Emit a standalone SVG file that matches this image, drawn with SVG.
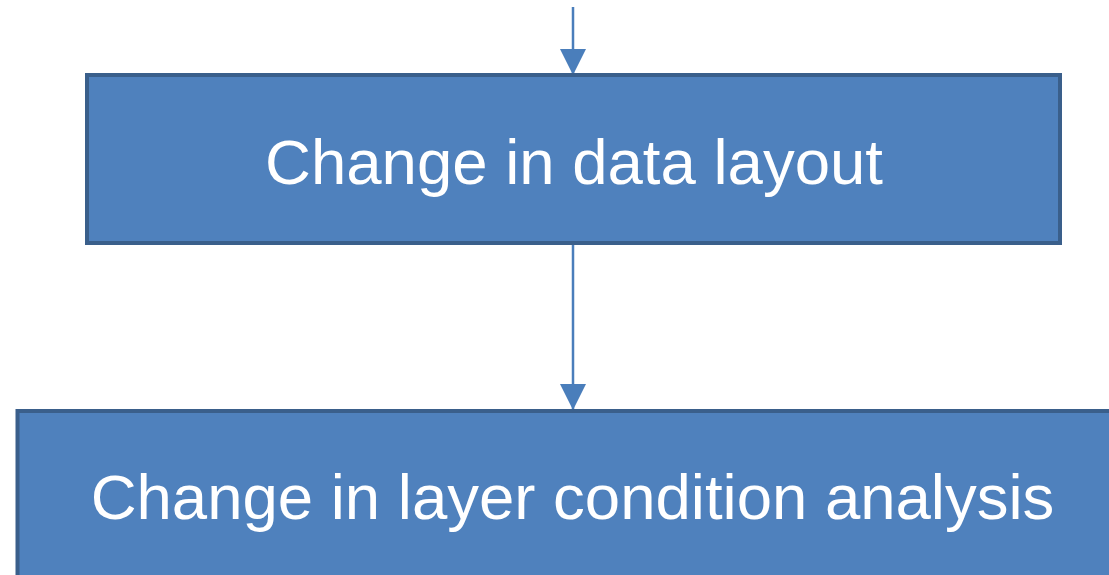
<svg xmlns="http://www.w3.org/2000/svg" width="1109" height="575" viewBox="0 0 1109 575">
  <style>
    .box { fill: #4f81bd; stroke: #3a5f8b; stroke-width: 4; }
    .label { fill: #ffffff; font-family: "Liberation Sans", Arial, sans-serif; font-size: 63.5px; text-anchor: middle; }
    .link { stroke: #4a7ebb; stroke-width: 2.5; fill: none; }
  </style>
  <defs>
    <marker id="arrowhead" viewBox="0 0 26 26" refX="26" refY="13" markerWidth="26" markerHeight="26" markerUnits="userSpaceOnUse" orient="auto">
      <path d="M0,0 L26,13 L0,26 Z" fill="#4a7ebb"/>
    </marker>
  </defs>

  <g id="connectors">
    <line class="link" x1="573" y1="7" x2="573" y2="75" marker-end="url(#arrowhead)"/>
    <line class="link" x1="573" y1="245" x2="573" y2="410" marker-end="url(#arrowhead)"/>
  </g>

  <g id="node-data-layout">
    <rect class="box" x="87" y="75" width="973" height="168"/>
    <text class="label" x="574" y="184">Change in data layout</text>
  </g>

  <g id="node-layer-condition">
    <rect class="box" x="17.5" y="411" width="1200" height="300"/>
    <text class="label" x="572.5" y="519">Change in layer condition analysis</text>
  </g>
</svg>
